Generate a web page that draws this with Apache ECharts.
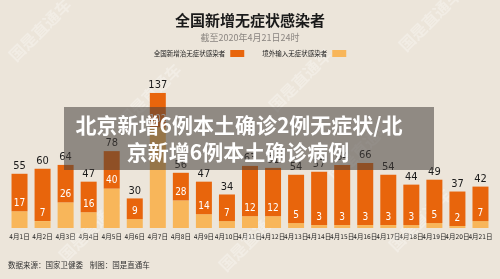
<!DOCTYPE html>
<html>
<head>
<meta charset="utf-8">
<script src="https://cdn.jsdelivr.net/npm/echarts@6/dist/echarts.min.js"></script>
<style>
  html, body { margin: 0; padding: 0; background: #ece5da; }
  #main { width: 500px; height: 279px; }
</style>
</head>
<body>
<div id="main"></div>
<script>
// 日期 / 总数 / 境外输入
const days = ['4月1日', '4月2日', '4月3日', '4月4日', '4月5日', '4月6日', '4月7日', '4月8日', '4月9日', '4月10日', '4月11日',
  '4月12日', '4月13日', '4月14日', '4月15日', '4月16日', '4月17日', '4月18日', '4月19日', '4月20日', '4月21日']
const totals = [55, 60, 64, 47, 78, 30, 137, 56, 47, 34, 63, 61, 54, 57, 64, 66, 54, 44, 49, 37, 42]
const imported = [17, 7, 26, 16, 40, 9, 102, 28, 14, 7, 12, 12, 5, 3, 3, 3, 3, 3, 5, 2, 7]
const rest = totals.map((t, i) => t - imported[i])

const orange = '#e8650c'
const yellow = '#f8b65a'
const narrow = '"Liberation Sans Narrow", "DejaVu Sans Condensed", "Noto Sans CJK SC", sans-serif'
const cjk = '"Noto Sans CJK SC", sans-serif'

// 水印
const marks = []
const spots = [[40, 30], [150, 95], [300, 80], [430, 20], [90, 230], [250, 240], [420, 220], [360, 150]]
spots.forEach(p => {
  marks.push({
    type: 'text', x: p[0], y: p[1], rotation: Math.PI / 4, z: 1,
    style: { text: '国是直通车', fill: 'rgba(255,255,255,0.3)', font: 'bold 16px ' + cjk, align: 'center', verticalAlign: 'middle' }
  })
})

const chart = echarts.init(document.getElementById('main'))
const option = {
  backgroundColor: '#ece5da',
  animation: false,
  title: {
    text: '全国新增无症状感染者',
    subtext: '截至2020年4月21日24时',
    left: 'center',
    top: 8,
    itemGap: 5,
    textStyle: { fontFamily: cjk, fontSize: 15, fontWeight: 'bold', color: '#1a1a1a' },
    subtextStyle: { fontFamily: cjk, fontSize: 9, color: '#8a8580' }
  },
  legend: {
    top: 45,
    left: 'center',
    itemGap: 18,
    itemWidth: 14,
    itemHeight: 7,
    icon: 'rect',
    align: 'right',
    textStyle: { fontFamily: cjk, fontSize: 6.5, color: '#222' },
    data: ['全国新增治无症状感染者', '境外输入无症状感染者']
  },
  grid: { left: 8, right: 8, top: 90, bottom: 51 },
  xAxis: {
    type: 'category',
    data: days,
    axisLine: { show: false },
    axisTick: { show: false },
    axisLabel: { fontFamily: narrow, fontSize: 6.5, color: '#222', margin: 6, interval: 0 }
  },
  yAxis: { type: 'value', min: 0, max: 140, show: false },
  series: [
    {
      name: '境外输入无症状感染者',
      type: 'bar',
      stack: 'a',
      barWidth: 16,
      data: imported,
      itemStyle: { color: yellow },
      label: { show: true, position: 'top', distance: 3, color: '#fff', fontFamily: narrow, fontSize: 10 }
    },
    {
      name: '全国新增治无症状感染者',
      type: 'bar',
      stack: 'a',
      barWidth: 16,
      data: rest,
      itemStyle: { color: orange },
      label: {
        show: true, position: 'top', distance: 2, color: '#1a1a1a', fontFamily: narrow, fontSize: 11,
        formatter: p => totals[p.dataIndex]
      }
    }
  ],
  graphic: marks.concat([
    {
      type: 'rect', z: 100,
      shape: { x: 64, y: 107, width: 370, height: 63 },
      style: { fill: 'rgba(70,64,60,0.55)' }
    },
    {
      type: 'text', z: 101, x: 239, y: 125,
      style: { text: '北京新增6例本土确诊2例无症状/北', fill: '#fff', font: 'bold 21px ' + cjk, align: 'center', verticalAlign: 'middle' }
    },
    {
      type: 'text', z: 101, x: 238, y: 152,
      style: { text: '京新增6例本土确诊病例', fill: '#fff', font: 'bold 21px ' + cjk, align: 'center', verticalAlign: 'middle' }
    },
    {
      type: 'text', z: 101, x: 8, y: 265,
      style: { text: '数据来源：国家卫健委    制图：国是直通车', fill: '#333', font: '7.5px ' + cjk, verticalAlign: 'middle' }
    }
  ])
}
option && chart.setOption(option)
</script>
</body>
</html>
